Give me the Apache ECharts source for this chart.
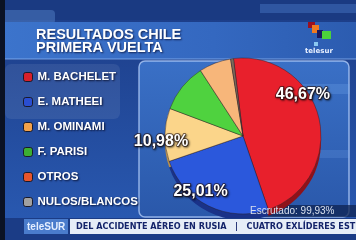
<!DOCTYPE html>
<html><head><meta charset="utf-8">
<script src="https://cdn.jsdelivr.net/npm/echarts@6/dist/echarts.min.js"></script>
<style>html,body{margin:0;padding:0;background:#1d3f8a}#c{width:356px;height:240px}</style>
</head><body><div id="c"></div>
<script>
const candidates = ['M. BACHELET','E. MATHEEI','M. OMINAMI','F. PARISI','OTROS','NULOS/BLANCOS'];
const shares = [46.67, 25.01, 10.98, 10.11, 6.63, 0.6];
const shownLabels = ['46,67%','25,01%','10,98%','','',''];
const sliceColors = ['#e8202c','#2b58dc','#fbd58a','#4fd23f','#f7b67a','#7d6a5a'];
const depthColors = ['#8e121a','#1a3288','#b8904e','#2a8a22','#b47c48','#40362c'];
const legendColors = ['#d8202a','#2a4ed0','#f3a24a','#3cae32','#e8552c','#a0a0a0'];
const titleText = 'RESULTADOS CHILE\nPRIMERA VUELTA';
const tickerText = 'DEL ACCIDENTE AÉREO EN RUSIA   |   CUATRO EXLÍDERES ESTUDIANTILES';
const countedText = 'Escrutado: 99,93%';

const labelNudge = [[19,-32],[-24,18],[-40,6],[0,0],[0,0],[0,0]];

const chart = echarts.init(document.getElementById('c'), null, {renderer:'canvas'});
const pieData = candidates.map((n,i)=>({name:n, value:shares[i], itemStyle:{color:sliceColors[i]},
  label:{show: shownLabels[i] !== ''}}));
const depthData = candidates.map((n,i)=>({name:n+' ', value:shares[i], itemStyle:{color:depthColors[i]}}));

chart.setOption({
  animation:false,
  backgroundColor:'#22489a',
  graphic:[
    {type:'rect', z:-20, shape:{x:0,y:0,width:356,height:240}, style:{fill:new echarts.graphic.LinearGradient(0,0,0,1,[{offset:0,color:'#1c3c86'},{offset:1,color:'#2a5bb4'}])}},
    {type:'rect', z:-19, shape:{x:0,y:0,width:356,height:20}, style:{fill:'#1a3a82'}},
    {type:'rect', z:-19, shape:{x:260,y:4,width:96,height:9}, style:{fill:'rgba(90,140,220,0.35)'}},
    {type:'rect', z:-19, shape:{x:0,y:10,width:55,height:14,r:4}, style:{fill:'rgba(110,160,230,0.35)'}},
    {type:'rect', z:-19, shape:{x:0,y:22,width:356,height:37}, style:{fill:new echarts.graphic.LinearGradient(0,0,1,0,[{offset:0,color:'#3c74cc'},{offset:0.6,color:'#3468c0'},{offset:1,color:'#2c5cb0'}])}},
    {type:'rect', z:-19, shape:{x:0,y:58,width:356,height:2}, style:{fill:'rgba(150,190,250,0.35)'}},
    {type:'rect', z:-18, shape:{x:5,y:64,width:115,height:55,r:6}, style:{fill:'rgba(255,255,255,0.08)'}},
    {type:'rect', z:-18, shape:{x:139,y:61,width:210,height:156,r:6}, style:{fill:new echarts.graphic.LinearGradient(0,0,0,1,[{offset:0,color:'#3a70c6'},{offset:1,color:'#2a58aa'}]), stroke:'rgba(190,215,255,0.7)', lineWidth:1.5}},
    {type:'rect', z:-17, shape:{x:290,y:84,width:60,height:10}, style:{fill:'rgba(120,170,240,0.25)'}},
    {type:'rect', z:-17, shape:{x:300,y:150,width:50,height:8}, style:{fill:'rgba(120,170,240,0.2)'}},
    {type:'rect', z:-16, shape:{x:244,y:205,width:112,height:12}, style:{fill:'rgba(15,35,80,0.75)'}},
    {type:'rect', z:-15, shape:{x:0,y:0,width:5,height:240}, style:{fill:'#0b1224'}},
    {type:'rect', z:5, shape:{x:5,y:218,width:351,height:22}, style:{fill:'#1b3c86'}},
    {type:'rect', z:6, shape:{x:24,y:219,width:44,height:15}, style:{fill:'#4a7ccc'}},
    {type:'rect', z:6, shape:{x:70,y:219,width:286,height:15}, style:{fill:'#e6edf7'}},
    {type:'rect', z:6, shape:{x:308,y:22,width:7,height:6}, style:{fill:'#9a1020'}},
    {type:'rect', z:7, shape:{x:312,y:25,width:7,height:8}, style:{fill:'#f07a20'}},
    {type:'rect', z:7, shape:{x:317,y:30,width:6,height:8}, style:{fill:'#1a1a60'}},
    {type:'rect', z:8, shape:{x:322,y:31,width:9,height:8}, style:{fill:'#4cd23a'}},
    {type:'rect', z:7, shape:{x:314,y:42,width:4,height:4}, style:{fill:'#8ac8f0'}},
    {type:'text', z:7, x:305, y:48, style:{text:'telesur', fill:'#e8f0ff', font:'bold 7px "DejaVu Sans"'}}
  ],
  title:[
    {text:titleText, left:36, top:28, textStyle:{color:'#ffffff', fontFamily:'Liberation Sans', fontWeight:'bold', fontSize:14.5, lineHeight:13, textShadowColor:'rgba(0,0,30,0.7)', textShadowBlur:2, textShadowOffsetX:1, textShadowOffsetY:1}, padding:0, z:10},
    {text:countedText, left:250, top:206, padding:0, textStyle:{color:'#d8e0ee', fontFamily:'Liberation Sans', fontWeight:'normal', fontSize:10}, z:10},
    {text:'teleSUR', left:27, top:222, padding:0, textStyle:{color:'#e4eeff', fontFamily:'Liberation Sans', fontWeight:'bold', fontSize:10}, z:10},
    {text:tickerText, left:76, top:222, padding:0, textStyle:{color:'#14246a', fontFamily:'"DejaVu Sans Condensed", "Liberation Sans", sans-serif', fontWeight:'bold', fontSize:9}, z:10}
  ],
  legend:{
    orient:'vertical', left:23, top:69, padding:0, itemWidth:9, itemHeight:9, itemGap:9, icon:'roundRect',
    selectedMode:false,
    data: candidates.map((n,i)=>({name:n, itemStyle:{color:legendColors[i], borderColor:'#1a1a2a', borderWidth:1}})),
    textStyle:{color:'#ffffff', fontFamily:'Liberation Sans', fontWeight:'bold', fontSize:11.5, lineHeight:16, padding:[0,0,0,0], textShadowColor:'rgba(0,0,20,0.8)', textShadowBlur:2, textShadowOffsetX:1, textShadowOffsetY:1}
  },
  series:[
    {type:'pie', name:'depth', silent:true, center:[243,142], radius:78, startAngle:97, clockwise:true,
     label:{show:false}, labelLine:{show:false}, data:depthData, z:1},
    {type:'pie', name:'Resultados', center:[243,136], radius:78, startAngle:97, clockwise:true, z:3,
     itemStyle:{borderColor:'rgba(40,30,40,0.45)', borderWidth:1},
     label:{position:'inside', formatter:p=>shownLabels[p.dataIndex], color:'#ffffff', fontFamily:'Liberation Sans', fontWeight:'bold', fontSize:16,
       textBorderColor:'rgba(40,20,20,0.6)', textBorderWidth:2, textShadowColor:'rgba(0,0,0,0.6)', textShadowBlur:2, textShadowOffsetX:1, textShadowOffsetY:1},
     labelLine:{show:false},
     labelLayout:p=>({dx:labelNudge[p.dataIndex][0], dy:labelNudge[p.dataIndex][1]}),
     data:pieData}
  ]
});
</script></body></html>
